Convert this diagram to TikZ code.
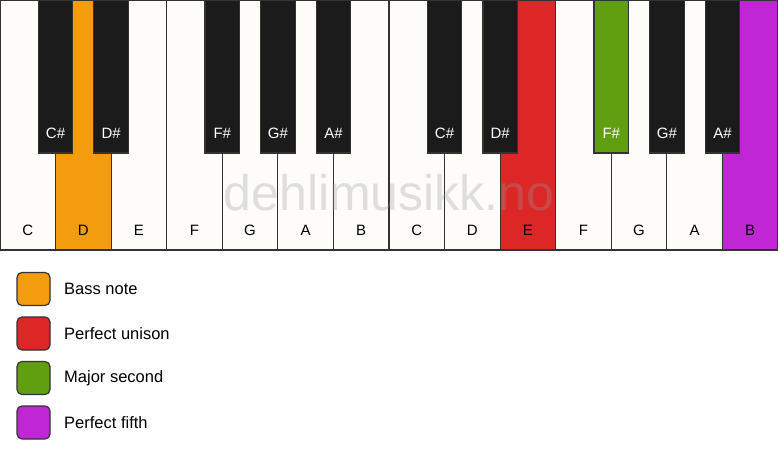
\documentclass[tikz,border=0pt]{standalone}
\usepackage{fontspec}
\setmainfont{Liberation Sans}
\definecolor{keywhite}{HTML}{FDFCF8}
\definecolor{keyblack}{HTML}{1B1B1B}
\definecolor{edge}{HTML}{333333}
\definecolor{cbass}{HTML}{F39C0E}
\definecolor{cunison}{HTML}{DD2727}
\definecolor{csecond}{HTML}{60A010}
\definecolor{cfifth}{HTML}{C026D3}
\tikzset{
  whitekey/.style={draw=edge, line width=1.2pt, fill=keywhite},
  blackkey/.style={draw=edge, line width=1.2pt, fill=keyblack},
  wlabel/.style={font=\fontsize{15}{15}\selectfont, text=black},
  blabel/.style={font=\fontsize{15}{15}\selectfont, text=white},
  legbox/.style={draw=edge, line width=1.2pt, rounded corners=5pt, minimum width=33pt, minimum height=33pt, inner sep=0pt},
  legtext/.style={font=\fontsize{16.5}{16.5}\selectfont, anchor=west, inner sep=0pt},
}
\begin{document}
\begin{tikzpicture}[x=1pt,y=-1pt]
\useasboundingbox (0,0) rectangle (778,461);
\fill[white] (0,0) rectangle (778,461);
\def\w{55.5714}
% white keys
\foreach \i/\n/\c in {0/C/keywhite,1/D/cbass,2/E/keywhite,3/F/keywhite,4/G/keywhite,5/A/keywhite,6/B/keywhite,7/C/keywhite,8/D/keywhite,9/E/cunison,10/F/keywhite,11/G/keywhite,12/A/keywhite,13/B/cfifth}{
  \draw[whitekey, fill=\c] ({\i*\w},0) rectangle ({(\i+1)*\w},250);
  \node[wlabel] (w\i) at ({(\i+0.5)*\w},230) {\n};
}
% black keys
\foreach \i/\n/\c in {1/C\#/keyblack,2/D\#/keyblack,4/F\#/keyblack,5/G\#/keyblack,6/A\#/keyblack,8/C\#/keyblack,9/D\#/keyblack,11/F\#/csecond,12/G\#/keyblack,13/A\#/keyblack}{
  \draw[blackkey, fill=\c] ({\i*\w-17.25},0) rectangle ({\i*\w+17.25},153);
  \node[blabel] (b\i) at ({\i*\w},133) {\n};
}
% watermark
\node[font=\fontsize{50}{50}\selectfont, text=gray!80, opacity=0.3] (wm) at (389,193) {dehlimusikk.no};
% legend
\node[legbox, fill=cbass] (l1) at (33.5,289) {};
\node[legtext] (t1) at (64,289) {Bass note};
\node[legbox, fill=cunison] (l2) at (33.5,333.5) {};
\node[legtext] (t2) at (64,333.5) {Perfect unison};
\node[legbox, fill=csecond] (l3) at (33.5,378) {};
\node[legtext] (t3) at (64,378) {Major second};
\node[legbox, fill=cfifth] (l4) at (33.5,422.5) {};
\node[legtext] (t4) at (64,422.5) {Perfect fifth};
\end{tikzpicture}
\end{document}
